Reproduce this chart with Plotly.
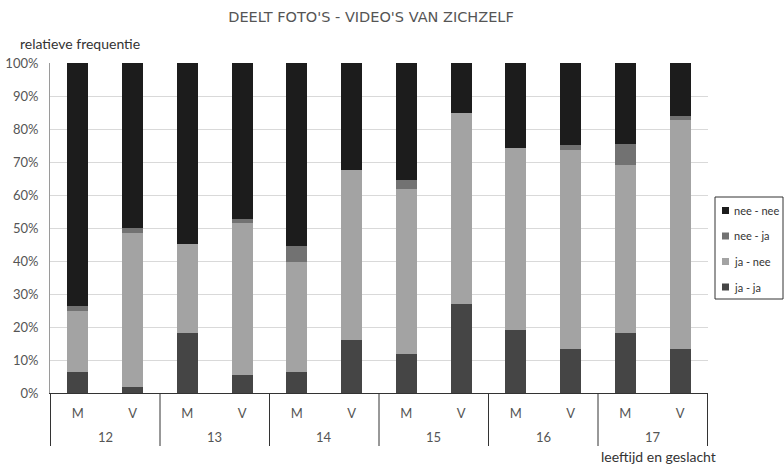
import plotly.graph_objects as go

ages = ["12", "12", "13", "13", "14", "14", "15", "15", "16", "16", "17", "17"]
sexes = ["M", "V", "M", "V", "M", "V", "M", "V", "M", "V", "M", "V"]
age_groups = ["12", "13", "14", "15", "16", "17"]

ja_ja = [6.3, 1.7, 18.1, 5.4, 6.3, 16.0, 11.7, 27.0, 19.0, 13.2, 18.1, 13.2]
ja_nee = [18.5, 46.8, 27.0, 46.2, 33.5, 51.6, 50.0, 57.7, 55.3, 60.5, 51.1, 69.4]
nee_ja = [1.7, 1.5, 0.0, 1.0, 4.7, 0.0, 2.7, 0.0, 0.0, 1.4, 6.2, 1.3]
nee_nee = [73.5, 50.0, 54.9, 47.4, 55.5, 32.4, 35.6, 15.3, 25.7, 24.9, 24.6, 16.1]

series_names = ["ja - ja", "ja - nee", "nee - ja", "nee - nee"]
series_values = [ja_ja, ja_nee, nee_ja, nee_nee]
series_colors = ["#454545", "#a3a3a3", "#727272", "#1c1c1c"]

yticks = [0, 10, 20, 30, 40, 50, 60, 70, 80, 90, 100]
ytick_labels = [f"{v}%" for v in yticks]

FONT = "Lato"
TXT = "#555555"

# plot area geometry in pixels
W, H = 784, 466
ML, MR, MT, MB = 50, 76, 63, 73
PW, PH = W - ML - MR, H - MT - MB


def px_x(p):
    return (p - ML) / PW


def px_y(p):
    return (H - MB - p) / PH


cats = [f"{a} {s}" for a, s in zip(ages, sexes)]

fig = go.Figure()
for name, vals, col in zip(series_names, series_values, series_colors):
    fig.add_trace(go.Bar(
        x=cats, y=vals, name=name,
        marker=dict(color=col, line=dict(width=0)),
        showlegend=False,
    ))

shapes = []
annotations = []

# group dividers and age labels under the axis
n_groups = len(age_groups)
for k in range(n_groups + 1):
    xpos = 2 * k - 0.5
    shapes.append(dict(type="line", xref="x", yref="paper",
                       x0=xpos, x1=xpos, y0=0, y1=px_y(446),
                       line=dict(color="#333333", width=1)))
for k, g in enumerate(age_groups):
    annotations.append(dict(text=g, xref="x", yref="paper",
                            x=2 * k + 0.5, y=px_y(437), xanchor="center", yanchor="middle",
                            showarrow=False, font=dict(family=FONT, size=13, color=TXT)))

# legend (drawn as shapes + text, top item = last series)
shapes.append(dict(type="rect", xref="paper", yref="paper",
                   x0=px_x(715), x1=px_x(783), y0=px_y(299), y1=px_y(197),
                   line=dict(color="#333333", width=1), fillcolor="white", layer="above"))
item_y = [210.5, 236, 261.5, 287]
for i, (name, col) in enumerate(zip(series_names[::-1], series_colors[::-1])):
    cy = item_y[i]
    shapes.append(dict(type="rect", xref="paper", yref="paper",
                       x0=px_x(722), x1=px_x(729), y0=px_y(cy + 3.5), y1=px_y(cy - 3.5),
                       line=dict(width=0), fillcolor=col, layer="above"))
    annotations.append(dict(text=name, xref="paper", yref="paper",
                            x=px_x(732), y=px_y(cy), xanchor="left", yanchor="middle",
                            showarrow=False,
                            font=dict(family=FONT, size=11, color="#333333")))

annotations += [
    dict(text="relatieve frequentie", xref="paper", yref="paper",
         x=px_x(18), y=px_y(44), xanchor="left", yanchor="middle",
         showarrow=False, font=dict(family=FONT, size=14, color="#333333")),
    dict(text="leeftijd en geslacht", xref="paper", yref="paper",
         x=px_x(718), y=px_y(456), xanchor="right", yanchor="middle",
         showarrow=False, font=dict(family=FONT, size=14, color="#333333")),
]

fig.update_layout(
    barmode="stack",
    bargap=0.62,
    width=W, height=H,
    margin=dict(l=ML, r=MR, t=MT, b=MB, autoexpand=False),
    paper_bgcolor="white", plot_bgcolor="white",
    font=dict(family=FONT, size=13, color=TXT),
    showlegend=False,
    title=dict(
        text="DEELT FOTO'S - VIDEO'S VAN ZICHZELF",
        x=px_x(371), xref="paper", xanchor="center",
        y=1 - 17 / H, yref="container", yanchor="middle",
        font=dict(family="DejaVu Sans", size=14.5, color="#555555"),
    ),
    xaxis=dict(
        type="category",
        tickvals=cats, ticktext=sexes,
        showline=True, linecolor="#333333", linewidth=1,
        ticks="", tickfont=dict(family=FONT, size=13, color=TXT),
        ticklabelstandoff=8,
        showgrid=False,
    ),
    yaxis=dict(
        range=[0, 100], tickvals=yticks, ticktext=ytick_labels,
        showgrid=True, gridcolor="#d9d9d9", gridwidth=1,
        showline=True, linecolor="#9a9a9a", linewidth=1,
        ticks="", tickfont=dict(family=FONT, size=13, color=TXT),
        ticklabelstandoff=8,
        zeroline=False,
    ),
    shapes=shapes,
    annotations=annotations,
)

fig.write_html("out.html", config={"displayModeBar": False},
               post_script="document.body.style.margin='0';")
